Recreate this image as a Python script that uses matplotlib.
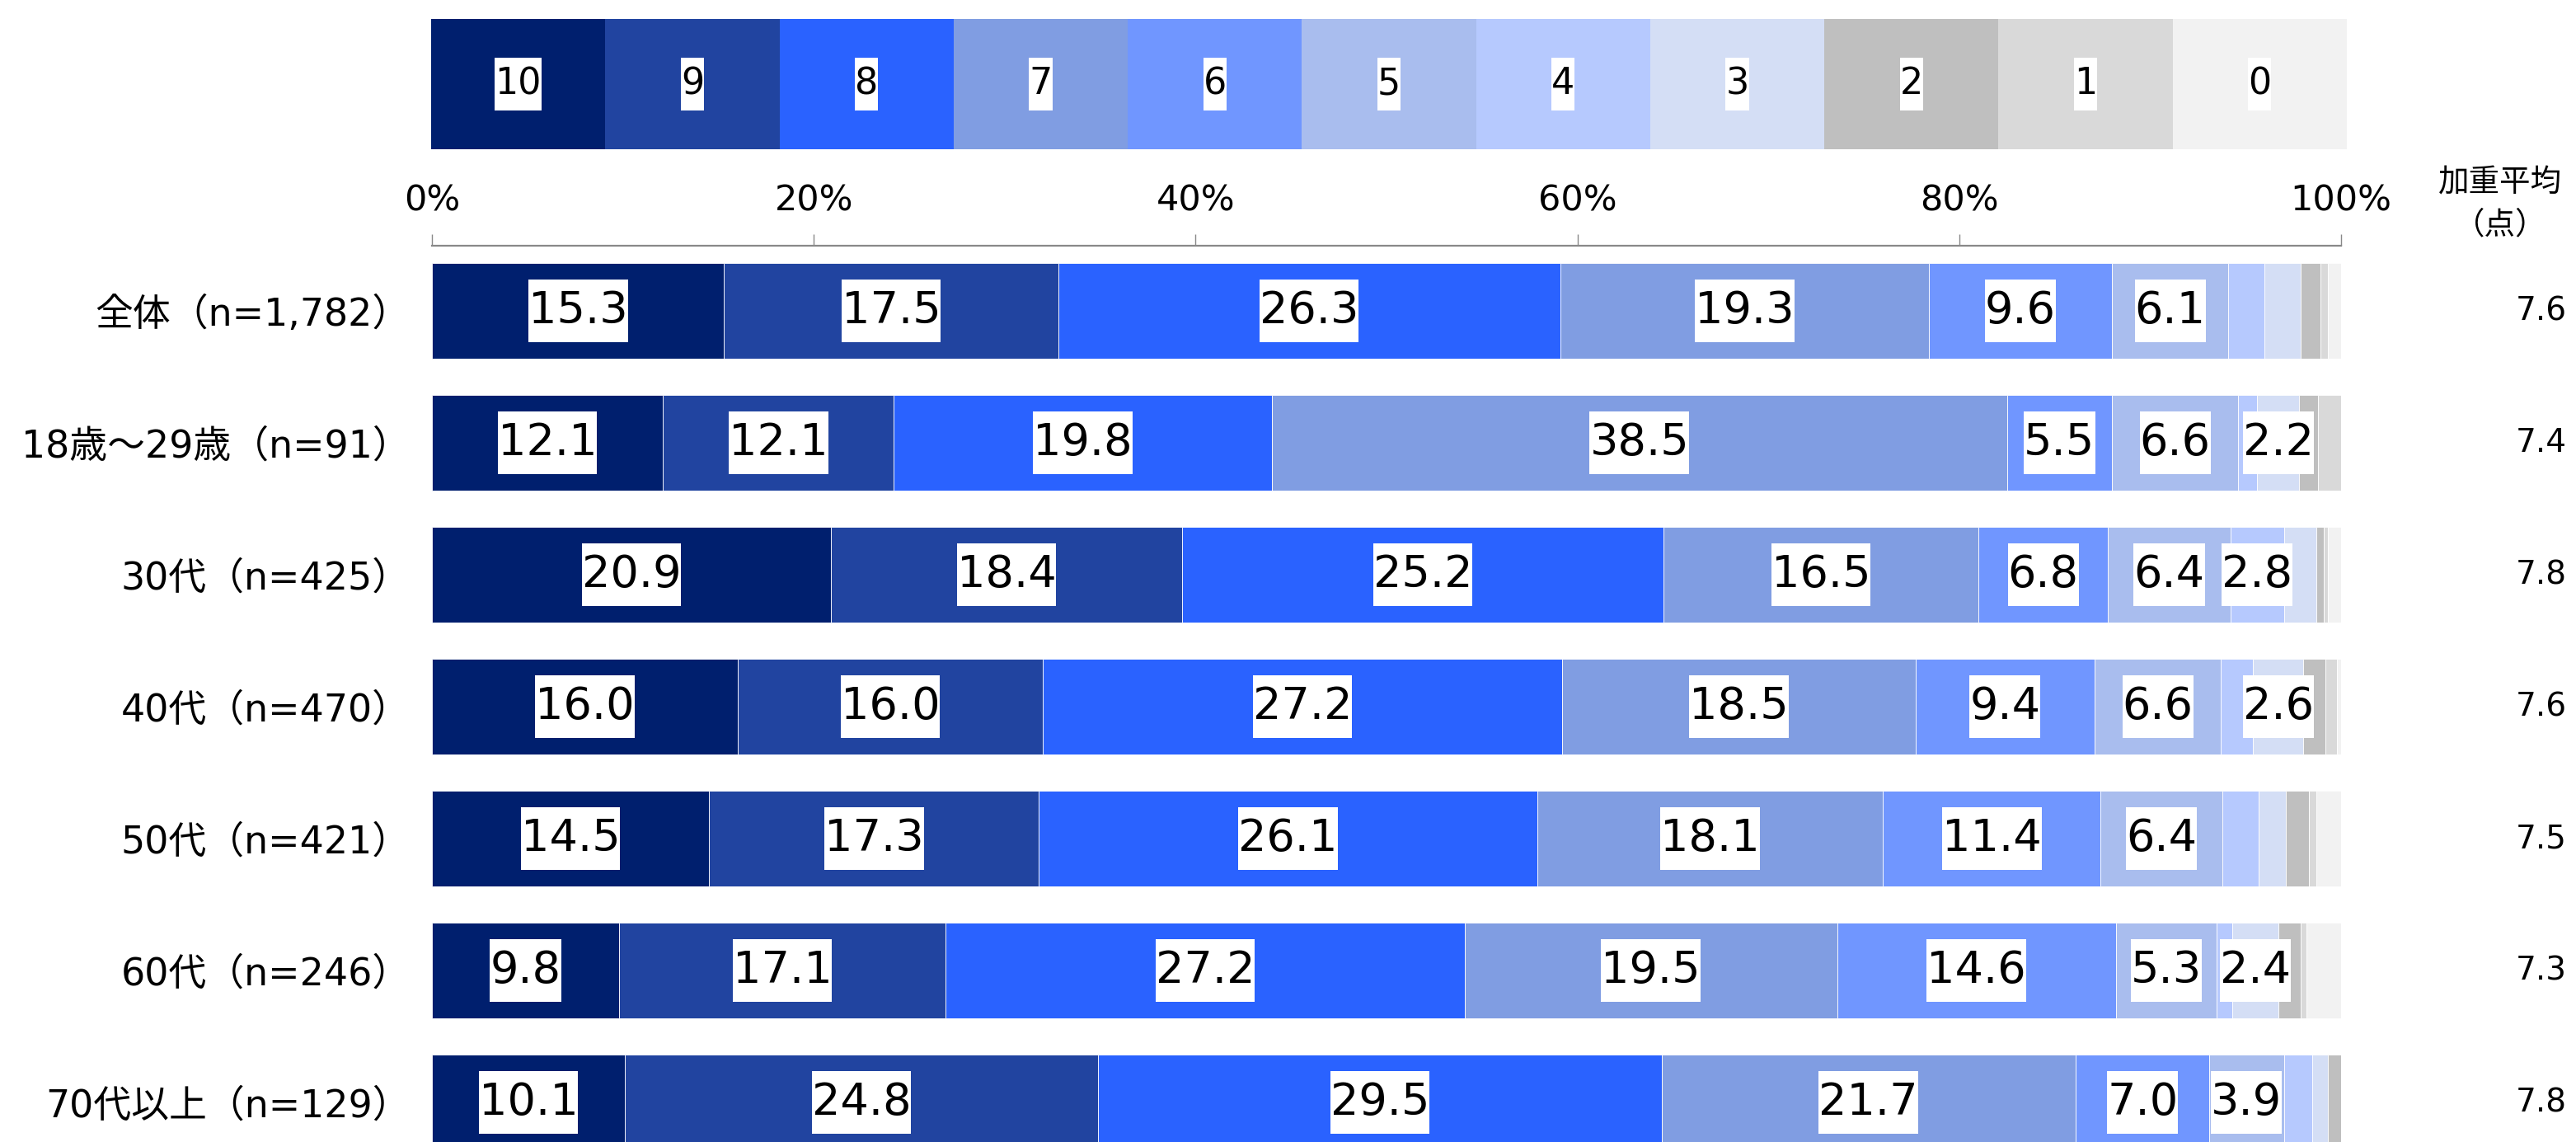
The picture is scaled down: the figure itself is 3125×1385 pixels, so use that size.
import numpy as np
import matplotlib
matplotlib.use("Agg")
import matplotlib.pyplot as plt
from matplotlib.path import Path

plt.rcParams['font.family'] = ['DejaVu Sans', 'Noto Sans CJK JP']

# scores, 10 (best) down to 0
levels = ['10', '9', '8', '7', '6', '5', '4', '3', '2', '1', '0']
colors = ['#001F6E', '#2144A0', '#2A62FF', '#809DE2', '#7096FF', '#A9BDEE',
          '#B6C9FE', '#D4DEF5', '#BFBFBF', '#D9D9D9', '#F2F2F2']

groups = ['全体（n=1,782）', '18歳～29歳（n=91）', '30代（n=425）', '40代（n=470）',
          '50代（n=421）', '60代（n=246）', '70代以上（n=129）']

zentai = [15.3, 17.5, 26.3, 19.3, 9.6, 6.1, 1.9, 1.9, 1.0, 0.4, 0.7]
age18_29 = [12.1, 12.1, 19.8, 38.5, 5.5, 6.6, 1.0, 2.2, 1.0, 1.2, 0.0]
age30 = [20.9, 18.4, 25.2, 16.5, 6.8, 6.4, 2.8, 1.7, 0.4, 0.2, 0.7]
age40 = [16.0, 16.0, 27.2, 18.5, 9.4, 6.6, 1.7, 2.6, 1.2, 0.6, 0.2]
age50 = [14.5, 17.3, 26.1, 18.1, 11.4, 6.4, 1.9, 1.4, 1.2, 0.4, 1.3]
age60 = [9.8, 17.1, 27.2, 19.5, 14.6, 5.3, 0.8, 2.4, 1.2, 0.3, 1.8]
age70 = [10.1, 24.8, 29.5, 21.7, 7.0, 3.9, 1.5, 0.8, 0.7, 0.0, 0.0]

weighted_avg = [7.6, 7.4, 7.8, 7.6, 7.5, 7.3, 7.8]

data = np.array([zentai, age18_29, age30, age40, age50, age60, age70])


def tight_box(x0, y0, width, height, mutation_size):
    # white label box: no side padding, some padding top/bottom
    py = 0.23 * mutation_size
    return Path([(x0, y0 - py), (x0 + width, y0 - py), (x0 + width, y0 + height + py),
                 (x0, y0 + height + py), (x0, y0 - py)], closed=True)


label_box = dict(boxstyle=tight_box, facecolor='white', edgecolor='none')

fig = plt.figure(figsize=(31.25, 13.85), dpi=100)

# legend strip at the top
lax = fig.add_axes([523 / 3125, 1 - 181 / 1385, 2324 / 3125, 158 / 1385])
lpos = np.arange(len(levels))
lax.barh(0, np.ones(len(levels)), left=lpos, height=1, color=colors, edgecolor='none')
for i, lv in enumerate(levels):
    lax.text(i + 0.5, 0, lv, ha='center', va='center', fontsize=32, bbox=label_box)
lax.set_xlim(0, len(levels))
lax.set_ylim(-0.5, 0.5)
lax.axis('off')

# main chart
ax = fig.add_axes([524 / 3125, 0, 2316 / 3125, 1 - 298 / 1385])
y = np.arange(len(groups))
left = np.zeros(len(groups))
for k in range(len(levels)):
    vals = data[:, k]
    ax.barh(y, vals, left=left, height=0.725, color=colors[k], edgecolor='white', linewidth=0.6)
    for i in range(len(groups)):
        if vals[i] >= 2.0:
            ax.text(left[i] + vals[i] / 2, y[i], '%.1f' % vals[i], ha='center', va='center',
                    fontsize=39, bbox=label_box)
    left = left + vals

ax.set_xlim(0, 100)
ax.set_ylim(6.3, -0.494)
ax.xaxis.tick_top()
ax.set_xticks([0, 20, 40, 60, 80, 100])
ax.set_xticklabels(['0%', '20%', '40%', '60%', '80%', '100%'])
ax.tick_params(axis='x', direction='out', length=10, width=1, color='#898989',
               labelsize=31, pad=14)
ax.set_yticks(y)
ax.set_yticklabels(groups)
ax.tick_params(axis='y', length=0, labelsize=33, pad=19)
for s in ['bottom', 'left', 'right']:
    ax.spines[s].set_visible(False)
ax.spines['top'].set_color('#898989')
ax.spines['top'].set_linewidth(1.6)

for i, v in enumerate(weighted_avg):
    ax.text(1.1183, i, '%.1f' % v, ha='right', va='center', fontsize=28,
            transform=ax.get_yaxis_transform())

fig.text(3033 / 3125, 1 - 222 / 1385, '加重平均', ha='center', va='center', fontsize=27)
fig.text(3033 / 3125, 1 - 273 / 1385, '（点）', ha='center', va='center', fontsize=27)

fig.savefig('out.png', dpi=100)
